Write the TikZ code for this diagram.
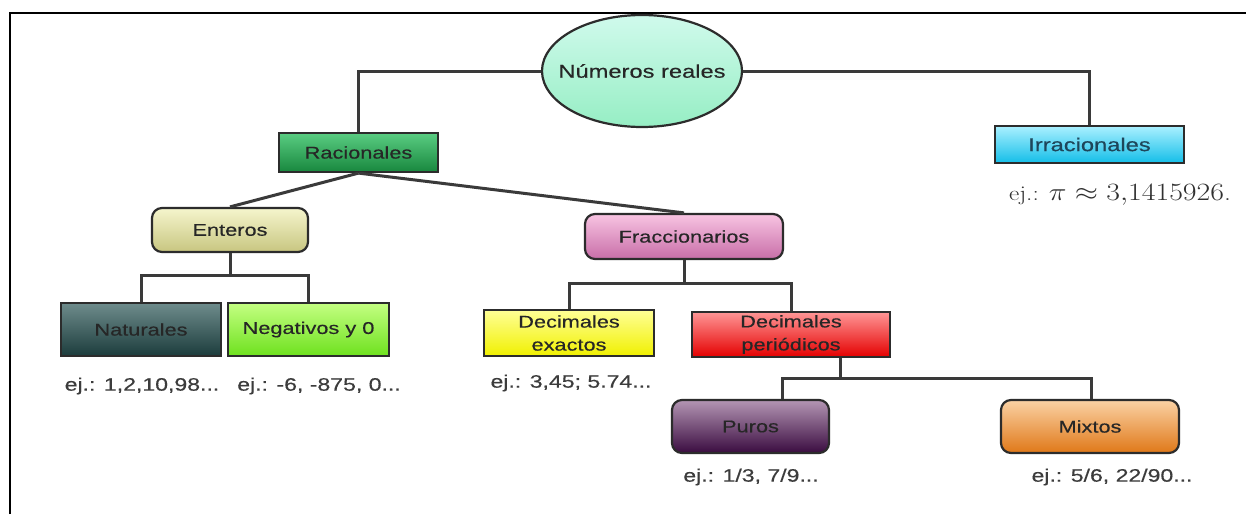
\documentclass[tikz,border=0pt]{standalone}
\usepackage{fontspec}
\usepackage{graphicx}
\newfontfamily\boxfont[FakeStretch=1.28,FakeBold=0.4]{Liberation Sans}
\usetikzlibrary{shapes.geometric,shadings}
\definecolor{edgec}{HTML}{2C2C2C}
\definecolor{connc}{HTML}{3A3A3A}
\definecolor{txtc}{HTML}{262626}
\definecolor{labc}{HTML}{3C3C3C}
\begin{document}
\begin{tikzpicture}[x=1pt,y=-1pt,
  box/.style={draw=edgec,line width=2.2pt,inner sep=0pt,align=center,
    font=\boxfont\fontsize{17}{22}\selectfont,text=txtc},
  rbox/.style={box,rounded corners=10pt},
  conn/.style={draw=connc,line width=3pt},
  lab/.style={font=\boxfont\fontsize{18}{21}\selectfont,text=labc,inner sep=0pt}]
\useasboundingbox (0,0) rectangle (1246,514);
\fill[white] (0,0) rectangle (1246,514);
% frame
\draw[line width=2.5pt,black] (10,514) -- (10,13) -- (1246,13);

% nodes
\node[ellipse,box,minimum width=200pt,minimum height=112pt,font=\boxfont\fontsize{18.5}{22}\selectfont,
  top color={rgb,255:red,208;green,250;blue,236},bottom color={rgb,255:red,150;green,238;blue,196}]
  (real) at (642,71) {\makebox[0pt]{Números reales}};
\node[box,minimum width=159pt,minimum height=39pt,
  top color={rgb,255:red,90;green,205;blue,130},bottom color={rgb,255:red,24;green,135;blue,62}]
  (rac) at (358.5,152.5) {Racionales};
\node[box,minimum width=189pt,minimum height=37pt,text={rgb,255:red,30;green,70;blue,90},
  font=\boxfont\fontsize{18.5}{22}\selectfont,
  top color={rgb,255:red,170;green,240;blue,255},bottom color={rgb,255:red,20;green,190;blue,232}]
  (irr) at (1089.5,144.5) {Irracionales};
\node[rbox,minimum width=156pt,minimum height=44pt,
  top color={rgb,255:red,245;green,245;blue,205},bottom color={rgb,255:red,200;green,198;blue,128}]
  (ent) at (230,230) {Enteros};
\node[rbox,minimum width=198pt,minimum height=45pt,
  top color={rgb,255:red,248;green,196;blue,226},bottom color={rgb,255:red,200;green,110;blue,168}]
  (fra) at (684,236.5) {Fraccionarios};
\node[box,minimum width=160pt,minimum height=53pt,
  top color={rgb,255:red,110;green,140;blue,140},bottom color={rgb,255:red,28;green,60;blue,60}]
  (nat) at (141,329.5) {Naturales};
\node[box,minimum width=161pt,minimum height=53pt,
  top color={rgb,255:red,196;green,255;blue,130},bottom color={rgb,255:red,110;green,225;blue,30}]
  (neg) at (308.5,329.5) {Negativos y 0};
\node[box,minimum width=170pt,minimum height=46pt,font=\boxfont\fontsize{17}{23}\selectfont,
  top color={rgb,255:red,255;green,255;blue,150},bottom color={rgb,255:red,240;green,240;blue,0}]
  (dex) at (569,333) {Decimales\\exactos};
\node[box,minimum width=198pt,minimum height=45pt,font=\boxfont\fontsize{17}{23}\selectfont,
  top color={rgb,255:red,255;green,150;blue,150},bottom color={rgb,255:red,228;green,0;blue,0}]
  (dpe) at (791,334.5) {Decimales\\periódicos};
\node[rbox,minimum width=157pt,minimum height=53pt,
  top color={rgb,255:red,180;green,150;blue,180},bottom color={rgb,255:red,58;green,12;blue,64}]
  (pur) at (750.5,426.5) {Puros};
\node[rbox,minimum width=178pt,minimum height=53pt,
  top color={rgb,255:red,250;green,210;blue,165},bottom color={rgb,255:red,224;green,120;blue,24}]
  (mix) at (1090,426.5) {Mixtos};

% connector coordinates
\coordinate (entbar) at (230,275);
\coordinate (frabar) at (684,283);
\coordinate (dpebar) at (840,378);
\coordinate (purbar) at (782,378);
\coordinate (mixbar) at (1091,378);

% connectors
\draw[conn] (real.west) -| (rac.north);
\draw[conn] (real.east) -| (irr.north);
\draw[conn] (rac.south) -- (ent.north);
\draw[conn] (rac.south) -- (fra.north);
\draw[conn] (ent.south) -- (entbar);
\draw[conn] (nat.north) |- (entbar) -| (neg.north);
\draw[conn] (fra.south) -- (frabar);
\draw[conn] (dex.north) |- (frabar) -| (dpe.north);
\draw[conn] (dpebar |- dpe.south) -- (dpebar);
\draw[conn] (purbar |- pur.north) -- (purbar) -- (mixbar) -- (mixbar |- mix.north);

% labels
\node[inner sep=0pt,text={rgb,255:red,48;green,48;blue,48}] (lirr) at (1120,195)
  {\scalebox{1.2}[1]{\fontsize{21}{24}\selectfont ej.: \fontsize{23}{26}\selectfont$\pi\approx3{,}1415926$.}};
\node[lab] (lnat) at (142,386) {ej.: 1,2,10,98...};
\node[lab] (lneg) at (319,386) {ej.: -6, -875, 0...};
\node[lab] (ldex) at (571,383) {ej.: 3,45; 5.74...};
\node[lab] (lpur) at (751,477) {ej.: 1/3, 7/9...};
\node[lab] (lmix) at (1112,477) {ej.: 5/6, 22/90...};
\end{tikzpicture}
\end{document}
